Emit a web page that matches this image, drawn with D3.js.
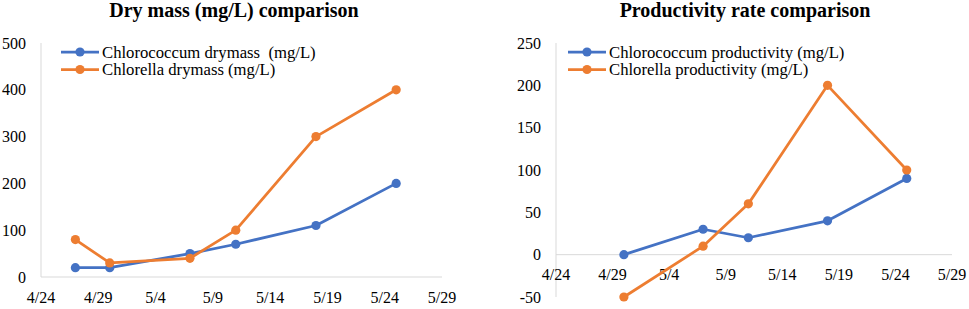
<!DOCTYPE html>
<html>
<head>
<meta charset="utf-8">
<script src="https://cdn.jsdelivr.net/npm/d3@7"></script>
<style>
  body { margin: 0; background: #fff; }
  svg text { font-family: "Liberation Serif", "DejaVu Serif", serif; }
</style>
</head>
<body>
<svg id="chart" width="969" height="309"></svg>
<script>
// tick labels (month/day)
const dateTicks = ["4/24", "4/29", "5/4", "5/9", "5/14", "5/19", "5/24", "5/29"];

// dry mass chart
const dryDates = ["4/27", "4/30", "5/7", "5/11", "5/18", "5/25"];
const chlorococcumDry = [20, 20, 50, 70, 110, 200];
const chlorellaDry = [80, 30, 40, 100, 300, 400];
const dryYTicks = [0, 100, 200, 300, 400, 500];

// productivity chart
const prodDates = ["4/30", "5/7", "5/11", "5/18", "5/25"];
const chlorococcumProd = [0, 30, 20, 40, 90];
const chlorellaProd = [-50, 10, 60, 200, 100];
const prodYTicks = [-50, 0, 50, 100, 150, 200, 250];

const parseMD = s => d3.timeParse("%Y/%m/%d")("2021/" + s);

const BLUE = "#4472C4";
const ORANGE = "#ED7D31";
const AXIS = "#d9d9d9";
const FONT = "'Liberation Serif', 'DejaVu Serif', serif";

const svg = d3.select("#chart");

function drawPanel(opt) {
  const g = svg.append("g").attr("font-family", FONT);

  const x = d3.scaleTime()
    .domain([parseMD(dateTicks[0]), parseMD(dateTicks[dateTicks.length - 1])])
    .range([opt.left, opt.right]);

  const y = d3.scaleLinear()
    .domain(d3.extent(opt.yTicks))
    .range([opt.bottom, opt.top]);

  // title
  g.append("text")
    .attr("x", opt.titleX)
    .attr("y", 16.5)
    .attr("text-anchor", "middle")
    .attr("font-weight", "bold")
    .attr("font-size", "20px")
    .text(opt.title);

  // y axis line + labels
  g.append("line")
    .attr("x1", opt.left).attr("x2", opt.left)
    .attr("y1", opt.top).attr("y2", opt.bottom)
    .attr("stroke", AXIS).attr("stroke-width", 1);

  g.selectAll(".ylab")
    .data(opt.yTicks)
    .join("text")
    .attr("x", opt.left - 15)
    .attr("y", d => y(d))
    .attr("dy", "0.35em")
    .attr("text-anchor", "end")
    .attr("font-size", "16px")
    .text(d => d);

  // x axis at zero
  g.append("line")
    .attr("x1", opt.left).attr("x2", opt.right)
    .attr("y1", y(0)).attr("y2", y(0))
    .attr("stroke", AXIS).attr("stroke-width", 1);

  g.selectAll(".xlab")
    .data(dateTicks)
    .join("text")
    .attr("x", d => x(parseMD(d)))
    .attr("y", y(0) + 20)
    .attr("dy", "0.35em")
    .attr("text-anchor", "middle")
    .attr("font-size", "16px")
    .text(d => d);

  const line = d3.line()
    .x(d => x(d.date))
    .y(d => y(d.v));

  opt.series.forEach(s => {
    const pts = s.values.map((v, i) => ({ date: parseMD(opt.dates[i]), v: v }));
    g.append("path")
      .datum(pts)
      .attr("d", line)
      .attr("fill", "none")
      .attr("stroke", s.color)
      .attr("stroke-width", 2.75)
      .attr("stroke-linejoin", "round");
    g.selectAll(null)
      .data(pts)
      .join("circle")
      .attr("cx", d => x(d.date))
      .attr("cy", d => y(d.v))
      .attr("r", 4.6)
      .attr("fill", s.color);
  });

  // legend
  opt.series.forEach((s, i) => {
    const ly = 52 + i * 17.5;
    g.append("line")
      .attr("x1", opt.legX).attr("x2", opt.legX + 38)
      .attr("y1", ly).attr("y2", ly)
      .attr("stroke", s.color).attr("stroke-width", 2.75);
    g.append("circle")
      .attr("cx", opt.legX + 19).attr("cy", ly)
      .attr("r", 4.6).attr("fill", s.color);
    g.append("text")
      .attr("x", opt.legX + 41)
      .attr("y", ly)
      .attr("dy", "0.33em")
      .attr("font-size", "16.7px")
      .attr("xml:space", "preserve")
      .style("white-space", "pre")
      .text(s.name);
  });
}

drawPanel({
  title: "Dry mass (mg/L) comparison",
  titleX: 234,
  left: 41, right: 442, top: 43, bottom: 277,
  yTicks: dryYTicks,
  dates: dryDates,
  legX: 61,
  series: [
    { name: "Chlorococcum drymass  (mg/L)", values: chlorococcumDry, color: BLUE },
    { name: "Chlorella drymass (mg/L)", values: chlorellaDry, color: ORANGE }
  ]
});

drawPanel({
  title: "Productivity rate comparison",
  titleX: 745,
  left: 556, right: 952, top: 43, bottom: 297,
  yTicks: prodYTicks,
  dates: prodDates,
  legX: 568,
  series: [
    { name: "Chlorococcum productivity (mg/L)", values: chlorococcumProd, color: BLUE },
    { name: "Chlorella productivity (mg/L)", values: chlorellaProd, color: ORANGE }
  ]
});
</script>
</body>
</html>
